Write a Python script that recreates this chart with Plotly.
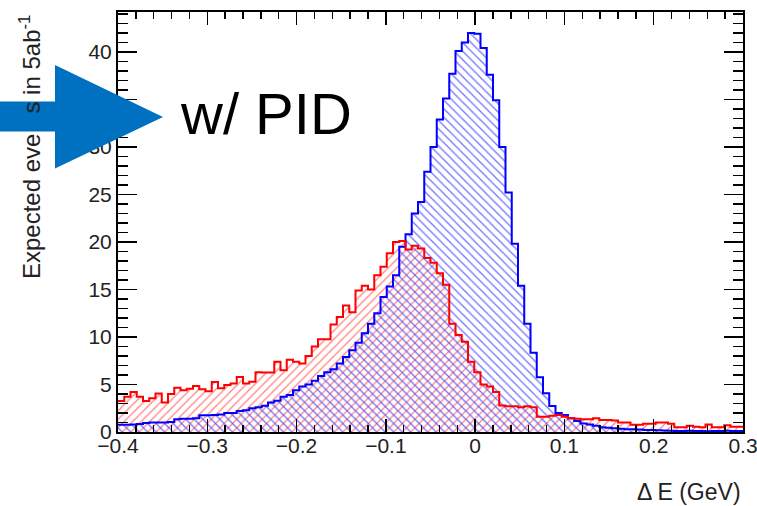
import numpy as np
import plotly.graph_objects as go

# ---- data -------------------------------------------------------------
BIN_LOW = -0.4
BIN_WIDTH = 0.007
N_BINS = 100

blue_counts = [
    0.75, 0.75, 0.8, 0.85, 0.95, 1.0, 1.0, 1.0, 1.05, 1.35,
    1.4, 1.4, 1.45, 1.75, 1.75, 1.8, 1.85, 2.0, 2.0, 2.2,
    2.3, 2.5, 2.6, 2.75, 3.1, 3.3, 3.7, 3.9, 4.4, 4.8,
    5.0, 5.4, 5.9, 6.3, 6.6, 7.2, 7.9, 8.6, 9.4, 10.4,
    11.4, 12.5, 14.2, 15.3, 16.5, 19.5, 20.8, 23.0, 24.2, 27.4,
    30.0, 32.9, 35.1, 37.7, 40.1, 41.0, 42.0, 41.9, 40.4, 37.6,
    34.9, 30.0, 25.2, 19.8, 15.4, 11.4, 8.35, 5.75, 4.07, 2.74,
    2.0, 1.8, 1.45, 1.15, 0.9, 0.8, 0.65, 0.5, 0.45, 0.4,
    0.35, 0.3, 0.28, 0.25, 0.2, 0.2, 0.18, 0.15, 0.12, 0.1,
    0.1, 0.12, 0.1, 0.1, 0.08, 0.1, 0.1, 0.12, 0.1, 0.1,
]

red_counts = [
    3.25, 3.7, 4.2, 3.7, 3.25, 3.55, 4.05, 3.1, 4.0, 4.65,
    4.4, 4.55, 4.85, 4.5, 4.3, 5.25, 4.6, 4.95, 5.1, 5.8,
    5.1, 5.3, 6.3, 6.25, 6.25, 7.4, 6.5, 7.6, 7.4, 7.2,
    8.0, 9.0, 9.75, 9.75, 11.3, 12.1, 13.3, 12.6, 14.9, 15.4,
    15.0, 16.5, 17.4, 18.8, 20.0, 20.1, 19.2, 19.6, 19.3, 18.3,
    17.8, 16.7, 15.5, 11.4, 10.2, 9.5, 7.4, 6.3, 5.0, 4.8,
    4.2, 2.8, 2.7, 2.7, 2.6, 2.7, 2.6, 1.6, 1.6, 1.7,
    1.8, 1.6, 1.45, 1.4, 1.35, 1.35, 1.45, 1.25, 1.25, 1.2,
    1.0, 1.0, 0.75, 0.75, 0.88, 0.88, 1.0, 1.0, 0.88, 0.5,
    0.5, 0.65, 0.55, 0.5, 0.8, 0.5, 0.5, 0.7, 0.55, 0.55,
]

x_tick_vals = [-0.4, -0.3, -0.2, -0.1, 0.0, 0.1, 0.2, 0.3]
x_tick_text = ["\u22120.4", "\u22120.3", "\u22120.2", "\u22120.1", "0", "0.1", "0.2", "0.3"]

x_title = "Δ E (GeV)"
y_title = "Expected eve<span style='color:rgba(0,0,0,0)'>nt</span>s in 5ab<sup>-1</sup>"
label_text = "w/ PID"

# ---- derived ---------------------------------------------------------
edges = BIN_LOW + BIN_WIDTH * np.arange(N_BINS + 1)
centers = 0.5 * (edges[:-1] + edges[1:])

W, H = 757, 506
L, R, T, B = 118, 14, 12, 74
PW, PH = W - L - R, H - T - B

def px(xp):
    return (xp - L) / PW

def py(yp):
    return (H - B - yp) / PH

FONT = "Liberation Sans, Arial, Helvetica, sans-serif"

fig = go.Figure()

fig.add_trace(go.Bar(
    x=centers, y=red_counts, width=BIN_WIDTH,
    marker=dict(color="rgba(255,90,90,0.75)", line=dict(width=0),
                pattern=dict(shape="/", size=6, solidity=0.22,
                             fgcolor="rgba(255,90,90,0.75)",
                             bgcolor="rgba(0,0,0,0)", fillmode="replace")),
    showlegend=False, hoverinfo="skip"))
fig.add_trace(go.Bar(
    x=centers, y=blue_counts, width=BIN_WIDTH,
    marker=dict(color="rgba(70,70,255,0.75)", line=dict(width=0),
                pattern=dict(shape="\\", size=6, solidity=0.22,
                             fgcolor="rgba(70,70,255,0.75)",
                             bgcolor="rgba(0,0,0,0)", fillmode="replace")),
    showlegend=False, hoverinfo="skip"))

fig.add_trace(go.Scatter(
    x=edges, y=list(blue_counts) + [blue_counts[-1]], mode="lines",
    line=dict(color="#0000ff", width=2, shape="hv"),
    showlegend=False, hoverinfo="skip"))
fig.add_trace(go.Scatter(
    x=edges, y=list(red_counts) + [red_counts[-1]], mode="lines",
    line=dict(color="#ff0000", width=2, shape="hv"),
    showlegend=False, hoverinfo="skip"))

axis_common = dict(
    showline=True, linewidth=2, linecolor="black", mirror="ticks",
    ticks="inside", tickcolor="black", tickwidth=1.5,
    showgrid=False, zeroline=False, automargin=False,
    tickfont=dict(family=FONT, size=21, color="#222"),
)

fig.update_xaxes(range=[-0.4, 0.3], tickmode="array",
                 tickvals=x_tick_vals, ticktext=x_tick_text,
                 ticklen=13, ticklabelstandoff=-6, ticklabeloverflow="allow",
                 minor=dict(tickmode="linear", tick0=0, dtick=0.02, ticklen=7,
                            ticks="inside", tickcolor="black", tickwidth=1.5,
                            showgrid=False),
                 **axis_common)
fig.update_yaxes(range=[0, 44.2], tickmode="linear", tick0=0, dtick=5,
                 ticklen=19,
                 minor=dict(dtick=1, ticklen=10, ticks="inside",
                            tickcolor="black", tickwidth=1.5, showgrid=False),
                 **axis_common)

# arrow (pixel geometry converted to paper coordinates)
arrow_pts = [(-5, 101.5), (55, 101.5), (55, 65), (163, 117), (55, 168.5),
             (55, 131.5), (-5, 131.5)]
path = "M " + " L ".join(f"{px(a):.5f},{py(b):.5f}" for a, b in arrow_pts) + " Z"
fig.add_shape(type="path", path=path, xref="paper", yref="paper",
              fillcolor="#0070C0", line=dict(width=0), layer="above")

fig.add_annotation(text=y_title, xref="paper", yref="paper",
                   x=px(30), y=py(13), xanchor="center", yanchor="top",
                   textangle=-90, showarrow=False,
                   font=dict(family=FONT, size=24, color="#222"))
fig.add_annotation(text=x_title, xref="paper", yref="paper",
                   x=px(743), y=py(492), xanchor="right", yanchor="middle",
                   showarrow=False,
                   font=dict(family=FONT, size=23, color="#222"))
fig.add_annotation(text=label_text, xref="paper", yref="paper",
                   x=px(178), y=py(113), xanchor="left", yanchor="middle",
                   showarrow=False,
                   font=dict(family=FONT, size=58, color="black"))

fig.update_layout(
    width=W, height=H,
    margin=dict(l=L, r=R, t=T, b=B, pad=0, autoexpand=False),
    paper_bgcolor="white", plot_bgcolor="white",
    barmode="overlay", bargap=0,
    showlegend=False,
)

fig.write_html("out.html",
               config={"displayModeBar": False, "staticPlot": True},
               post_script="document.body.style.margin='0';"
                           "document.body.style.overflow='hidden';")
